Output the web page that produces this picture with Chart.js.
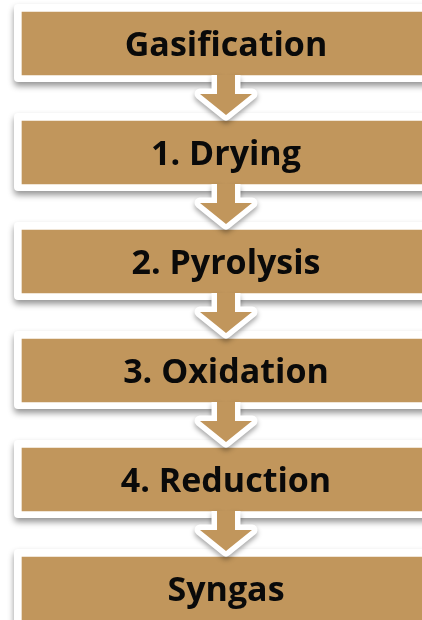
<!DOCTYPE html>
<html>
<head>
<meta charset="utf-8">
<script src="https://cdn.jsdelivr.net/npm/chart.js@4.4.1/dist/chart.umd.min.js"></script>
<style>
  html, body { margin: 0; padding: 0; background: #ffffff; overflow: hidden; }
  #wrap { width: 422px; height: 620px; position: relative; }
</style>
</head>
<body>
<div id="wrap"><canvas id="c"></canvas></div>
<script>
// Process steps (categories)
const steps = ['Gasification', '1. Drying', '2. Pyrolysis', '3. Oxidation', '4. Reduction', 'Syngas'];
// Each box spans the process lane (lane runs past the right edge of the frame)
const boxStart = [0, 0, 0, 0, 0, 0];
const boxEnd   = [1, 1, 1, 1, 1, 1];
// Flow links between steps (from index, to index)
const linkFrom = [0, 1, 2, 3, 4];
const linkTo   = [1, 2, 3, 4, 5];

const GOLD = '#C1965C';
const TEXT_FONT = '700 34px "Open Sans", Lato, sans-serif';

const flowPlugin = {
  id: 'flowFrames',
  // white framed card with soft drop shadow behind every gold box
  beforeDatasetsDraw(chart) {
    const ctx = chart.ctx;
    const meta = chart.getDatasetMeta(0);
    ctx.save();
    meta.data.forEach(el => {
      const p = el.getProps(['x', 'y', 'base', 'height'], true);
      const left = Math.min(p.x, p.base) - 8;
      const right = Math.max(p.x, p.base) + 20;
      const top = p.y - p.height / 2 - 8;
      const bottom = p.y + p.height / 2 + 7;
      ctx.shadowColor = 'rgba(0,0,0,0.42)';
      ctx.shadowBlur = 6;
      ctx.shadowOffsetY = 4;
      ctx.fillStyle = '#ffffff';
      ctx.beginPath();
      ctx.roundRect(left, top, right - left, bottom - top, 4);
      ctx.fill();
    });
    ctx.restore();
  },
  afterDatasetsDraw(chart) {
    const ctx = chart.ctx;
    const xs = chart.scales.x;
    const c = xs.getPixelForValue(0.5);
    const meta = chart.getDatasetMeta(0);
    linkFrom.forEach((f) => {
      const p = meta.data[f].getProps(['y', 'height'], true);
      const y0 = p.y + p.height / 2;        // gold bottom of source box
      const yh = y0 + 19;
      const tip = y0 + 40;
      const sw = 9, hw = 26;
      const open = () => {
        ctx.beginPath();
        ctx.moveTo(c - sw, y0);
        ctx.lineTo(c - sw, yh);
        ctx.lineTo(c - hw, yh);
        ctx.lineTo(c, tip);
        ctx.lineTo(c + hw, yh);
        ctx.lineTo(c + sw, yh);
        ctx.lineTo(c + sw, y0);
      };
      ctx.save();
      ctx.shadowColor = 'rgba(0,0,0,0.35)';
      ctx.shadowBlur = 5;
      ctx.shadowOffsetY = 3;
      ctx.strokeStyle = '#ffffff';
      ctx.lineWidth = 11;
      ctx.lineJoin = 'round';
      ctx.lineCap = 'butt';
      open();
      ctx.stroke();
      ctx.restore();
      ctx.save();
      ctx.fillStyle = GOLD;
      open();
      ctx.closePath();
      ctx.fill();
      ctx.restore();
    });
    ctx.save();
    ctx.font = TEXT_FONT;
    ctx.fillStyle = '#0a0a0a';
    ctx.textAlign = 'center';
    ctx.textBaseline = 'alphabetic';
    meta.data.forEach((el, i) => {
      const p = el.getProps(['y'], true);
      ctx.fillText(steps[i], c, p.y + 12.5);
    });
    ctx.restore();
  }
};

new Chart(document.getElementById('c'), {
  type: 'bar',
  data: {
    labels: steps,
    datasets: [{
      data: boxStart.map((s, i) => [s, boxEnd[i]]),
      backgroundColor: GOLD,
      borderWidth: 0,
      barThickness: 63,
      clip: false
    }]
  },
  options: {
    indexAxis: 'y',
    responsive: true,
    maintainAspectRatio: false,
    animation: false,
    layout: { padding: { top: 43.5, bottom: 31.5, left: 0, right: 0 } },
    scales: {
      x: { type: 'linear', min: -0.0539216, max: 0.9803922, display: false },
      y: { type: 'category', offset: false, display: false }
    },
    plugins: {
      legend: { display: false },
      tooltip: { enabled: false },
      title: { display: false }
    }
  },
  plugins: [flowPlugin]
});
</script>
</body>
</html>
